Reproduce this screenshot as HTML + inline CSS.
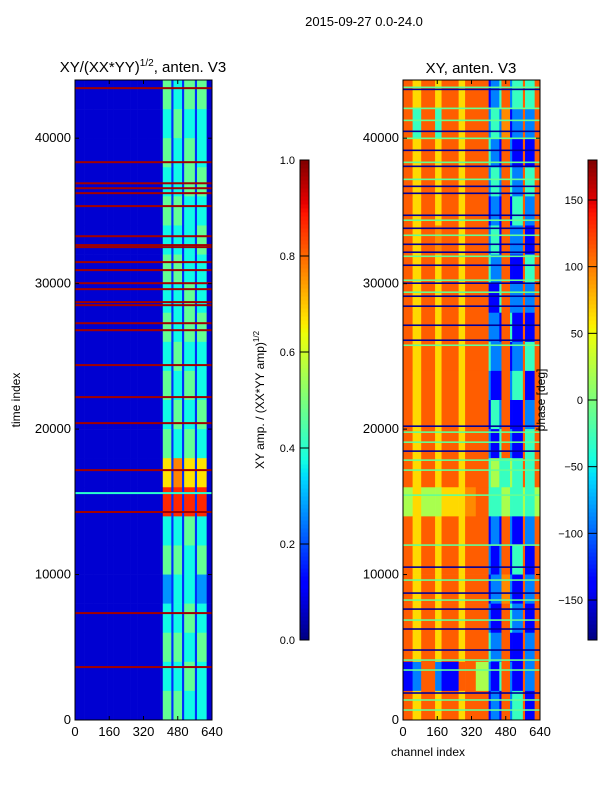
<!DOCTYPE html>
<html><head><meta charset="utf-8"><style>
html,body{margin:0;padding:0;background:#fff;}
svg{display:block;font-family:"Liberation Sans",sans-serif;}
</style></head><body>
<svg id="fig" width="600" height="800" viewBox="0 0 600 800">
<rect x="0" y="0" width="600" height="800" fill="#fff"/>
<text x="364" y="26" font-size="13" text-anchor="middle">2015-09-27 0.0-24.0</text>
<g id="left"></g>
<g id="right"></g>
<g id="cb1"></g>
<g id="cb2"></g>
<text x="143" y="72" font-size="15" text-anchor="middle">XY/(XX*YY)<tspan font-size="10" dy="-6">1/2</tspan><tspan dy="6">, anten. V3</tspan></text>
<text x="471" y="73" font-size="15" text-anchor="middle">XY, anten. V3</text>
<text transform="translate(20,400) rotate(-90)" font-size="12" text-anchor="middle">time index</text>
<text x="428" y="756" font-size="12" text-anchor="middle">channel index</text>
<text transform="translate(264,400) rotate(-90)" font-size="12" text-anchor="middle">XY amp. / (XX*YY amp)<tspan font-size="8" dy="-5">1/2</tspan></text>
<text transform="translate(545,400) rotate(-90)" font-size="12" text-anchor="middle">phase [deg]</text>
</svg>
<script>
// ---- data ----
const channelEdges = [0,45,85,150,180,260,290,340,400,410,450,460,500,510,560,570,615,640];
const rowSpan = 2000; // time units per row, rows listed top (44000) to bottom (0)
const ampRows = [
"11111111152425251","11111111142524241","11111111152425241","11111111142425251",
"11111111152524241","11111111142424251","11111111152524241","11111111142425241",
"11111111152425251","11111111142524241","11111111152425241","11111111142524251",
"11111111152425241","11111111172827271","11111111192929291","11111111142425241",
"11111111152524251","11111111132424231","11111111142425241","11111111152524251",
"11111111142425241","11111111152524241"];
const ampRedLines = [43440,38350,36900,36560,36220,35330,33260,32650,32510,31480,30930,30030,29620,28730,28520,27280,26800,24400,22200,20410,17180,14300,7350,3640];
const ampCyanLines = [15600];
const phaseCodes = {a:-170,b:-140,c:-90,d:-30,e:20,f:65,g:95,h:112,i:160};
const phaseRows = [
"hfhfhfhhbcdhcdhdh","hdhdhfhhcdcgbchch","hfhfhfhhdcbhcbhbh","hfhfhfhhcdchdchdh",
"hfhfhfhhbcbhbdhch","hfhghfhhcdbhcchbh","hfhfhfhhdcchbbhdh","hfhfhfhhbbdhcchch",
"hfhfhfhhccbhdbhbh","hfhfhfhhdcchbchdh","hfhfhfhhcbbhcdhbh","hfhfhfhhbdchbbhch",
"hfhfhfhhcbdhcbhdh","hfhfhfhhdeddedhdh","efeeffghdddeddede","hfhfhfhhbcbhcbhch",
"hfhfhfhhcbchbdhbh","hfhfhfhhbccgcbhch","hfhfhfhhcbbhdchbh","hfhfhfhhdcchbbhch",
"bchcbhhecbdhcbhch","hfhfhfhhbcbhcdhbh"];
const phaseNavyLines = [43355,40470,39165,38065,36690,36210,34700,33805,32705,32160,31265,30030,29135,28450,27140,26110,20200,18485,10510,8725,7625,6255,4810,1855];
const phaseGreenLines = [43495,42050,41225,39990,38340,37170,34360,33325,31880,30235,29410,25765,19790,19100,17865,17180,15460,12025,9620,8245,6870,4120,3435,1375,685];
const xTicks = [0,160,320,480,640];
const yTicks = [0,10000,20000,30000,40000];
const ampTicks = [0.0,0.2,0.4,0.6,0.8,1.0];
const phaseTicks = [-150,-100,-50,0,50,100,150];

// ---- helpers ----
const NS="http://www.w3.org/2000/svg";
const T0=80,T1=720,TMAX=44000;
const yT=t=>T1-(t/TMAX)*(T1-T0);
const xL=c=>75+c/640*137;
const xR=c=>403+c/640*137;
function interp(pts,v){for(let i=1;i<pts.length;i++){if(v<=pts[i][0]){const a=pts[i-1],b=pts[i];return a[1]+(b[1]-a[1])*(v-a[0])/(b[0]-a[0]);}}return pts[pts.length-1][1];}
function jet(v){v=Math.max(0,Math.min(1,v));
const r=interp([[0,0],[0.35,0],[0.66,1],[0.89,1],[1,0.5]],v);
const g=interp([[0,0],[0.125,0],[0.375,1],[0.64,1],[0.91,0],[1,0]],v);
const b=interp([[0,0.5],[0.11,1],[0.34,1],[0.65,0],[1,0]],v);
return `rgb(${Math.round(r*255)},${Math.round(g*255)},${Math.round(b*255)})`;}
function mk(tag,attrs,parent){const e=document.createElementNS(NS,tag);for(const k in attrs)e.setAttribute(k,attrs[k]);parent.appendChild(e);return e;}

function drawHeat(g,xf,rows,valFn,name){
  rows.forEach((row,ri)=>{
    const tTop=TMAX-ri*rowSpan,tBot=tTop-rowSpan;
    for(let ci=0;ci<channelEdges.length-1;ci++){
      const x0=xf(channelEdges[ci]),x1=xf(channelEdges[ci+1]);
      const r=mk('rect',{x:x0,y:yT(tTop),width:x1-x0+0.3,height:yT(tBot)-yT(tTop)+0.3,fill:jet(valFn(row[ci]))},g);
      
      
    }
  });
}
function drawLines(g,xf,times,color,w,name){
  times.forEach(t=>{
    const l=mk('rect',{x:xf(0),y:yT(t)-w/2,width:xf(640)-xf(0),height:w,fill:color},g);
    
    
  });
}
function drawAxes(g,xf){
  const x0=xf(0),x1=xf(640);
  mk('rect',{x:x0,y:T0,width:x1-x0,height:T1-T0,fill:'none',stroke:'#000','stroke-width':1},g);
  xTicks.forEach(v=>{
    const x=xf(v);
    mk('line',{x1:x,y1:T1,x2:x,y2:T1-4,stroke:'#000'},g);
    mk('line',{x1:x,y1:T0,x2:x,y2:T0+4,stroke:'#000'},g);
    const t=mk('text',{x:x,y:T1+16,'font-size':13,'text-anchor':'middle'},g);t.textContent=v;
    
    
  });
  yTicks.forEach(v=>{
    const y=yT(v);
    mk('line',{x1:x0,y1:y,x2:x0+4,y2:y,stroke:'#000'},g);
    mk('line',{x1:x1,y1:y,x2:x1-4,y2:y,stroke:'#000'},g);
    const t=mk('text',{x:x0-4,y:y+4,'font-size':13,'text-anchor':'end'},g);t.textContent=v;
    
    
  });
}
function drawColorbar(g,x,vmin,vmax,ticks,fmt){
  const y0=160,y1=640,w=9,n=120;
  for(let i=0;i<n;i++){
    mk('rect',{x:x,y:y1-(i+1)*(y1-y0)/n,width:w,height:(y1-y0)/n+0.5,fill:jet((i+0.5)/n)},g);
  }
  mk('rect',{x:x,y:y0,width:w,height:y1-y0,fill:'none',stroke:'#000'},g);
  ticks.forEach(v=>{
    const y=y1-(v-vmin)/(vmax-vmin)*(y1-y0);
    mk('line',{x1:x,y1:y,x2:x+w,y2:y,stroke:'#000','stroke-width':1},g);
    const t=mk('text',{x:x-5,y:y+4,'font-size':11,'text-anchor':'end'},g);t.textContent=fmt(v);
    
    
  });
}

// ---- draw ----
const L=document.getElementById('left'),R=document.getElementById('right');
drawHeat(L,xL,ampRows,ch=>Number(ch)/10-0.03,'amplitude');
drawLines(L,xL,ampRedLines,jet(0.97),2,'amplitude-flag-line');
drawLines(L,xL,ampCyanLines,jet(0.4),2,'amplitude-cyan-line');
drawAxes(L,xL);
drawHeat(R,xR,phaseRows,ch=>(phaseCodes[ch]+180)/360,'phase');
drawLines(R,xR,phaseNavyLines,jet(0.02),1.6,'phase-navy-line');
drawLines(R,xR,phaseGreenLines,jet(0.47),1.6,'phase-green-line');
drawAxes(R,xR);
drawColorbar(document.getElementById('cb1'),300,0,1,ampTicks,v=>v.toFixed(1));
drawColorbar(document.getElementById('cb2'),588,-180,180,phaseTicks,v=>v<0?'\u2212'+Math.abs(v):String(v));
</script>
</body></html>
